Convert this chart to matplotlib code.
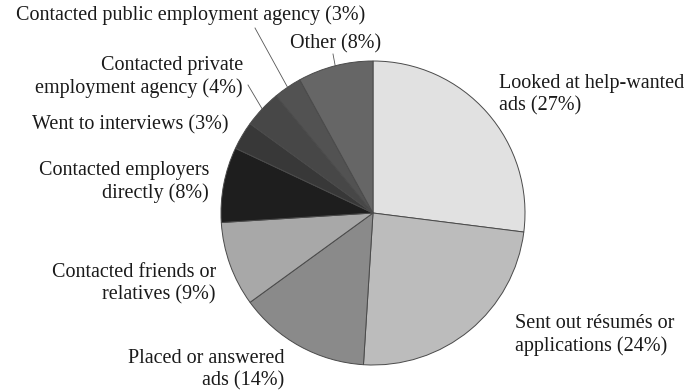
import matplotlib
matplotlib.use("Agg")
import matplotlib.pyplot as plt
import numpy as np

# Job-search methods, clockwise from 12 o'clock
labels = [
    "Looked at help-wanted\nads (27%)",
    "Sent out résumés or\napplications (24%)",
    "Placed or answered\nads (14%)",
    "Contacted friends or\nrelatives (9%)",
    "Contacted employers\ndirectly (8%)",
    "Went to interviews (3%)",
    "Contacted private\nemployment agency (4%)",
    "Contacted public employment agency (3%)",
    "Other (8%)",
]
shares = [27, 24, 14, 9, 8, 3, 4, 3, 8]
colors = ["#e1e1e1", "#bcbcbc", "#8a8a8a", "#a8a8a8", "#1e1e1e",
          "#383838", "#474747", "#525252", "#666666"]

plt.rcParams["font.family"] = "serif"
plt.rcParams["font.serif"] = ["Liberation Serif", "DejaVu Serif"]

W, H = 693, 390
fig = plt.figure(figsize=(W / 100, H / 100), dpi=100)
ax = fig.add_axes([0, 0, 1, 1])

cx, cy, r = 373, H - 213, 152
wedges, _ = ax.pie(shares, colors=colors, startangle=90, counterclock=False,
                   center=(cx, cy), radius=r, frame=True,
                   wedgeprops=dict(edgecolor="#4a4a4a", linewidth=0.7))
ax.set_xlim(0, W)
ax.set_ylim(0, H)
ax.set_aspect("equal")
ax.axis("off")

font = dict(fontsize=14.5, color="#1a1a1a", linespacing=1.2)

# (x, y) in pixel coordinates from the top-left, and horizontal alignment
placements = [
    (499, 95, "left"),
    (515, 335, "left"),
    (284, 370, "right"),
    (216, 284, "right"),
    (209, 182, "right"),
    (228, 125, "right"),
    (243, 77, "right"),
    (365, 15, "right"),
    (381, 44, "right"),
]
for text, (x, y, ha) in zip(labels, placements):
    ax.text(x, H - y, text, ha=ha, va="center", multialignment=ha, **font)

# Leader lines for the narrow upper-left wedges
leader_starts = {6: (248, 85), 7: (255, 28), 8: (333, 54)}
for i, (sx, sy) in leader_starts.items():
    w = wedges[i]
    mid = np.deg2rad((w.theta1 + w.theta2) / 2)
    ex, ey = cx + r * np.cos(mid), cy + r * np.sin(mid)
    ax.plot([sx, ex], [H - sy, ey], color="#555555", lw=0.6)

fig.savefig("out.png", dpi=100, facecolor="white")
